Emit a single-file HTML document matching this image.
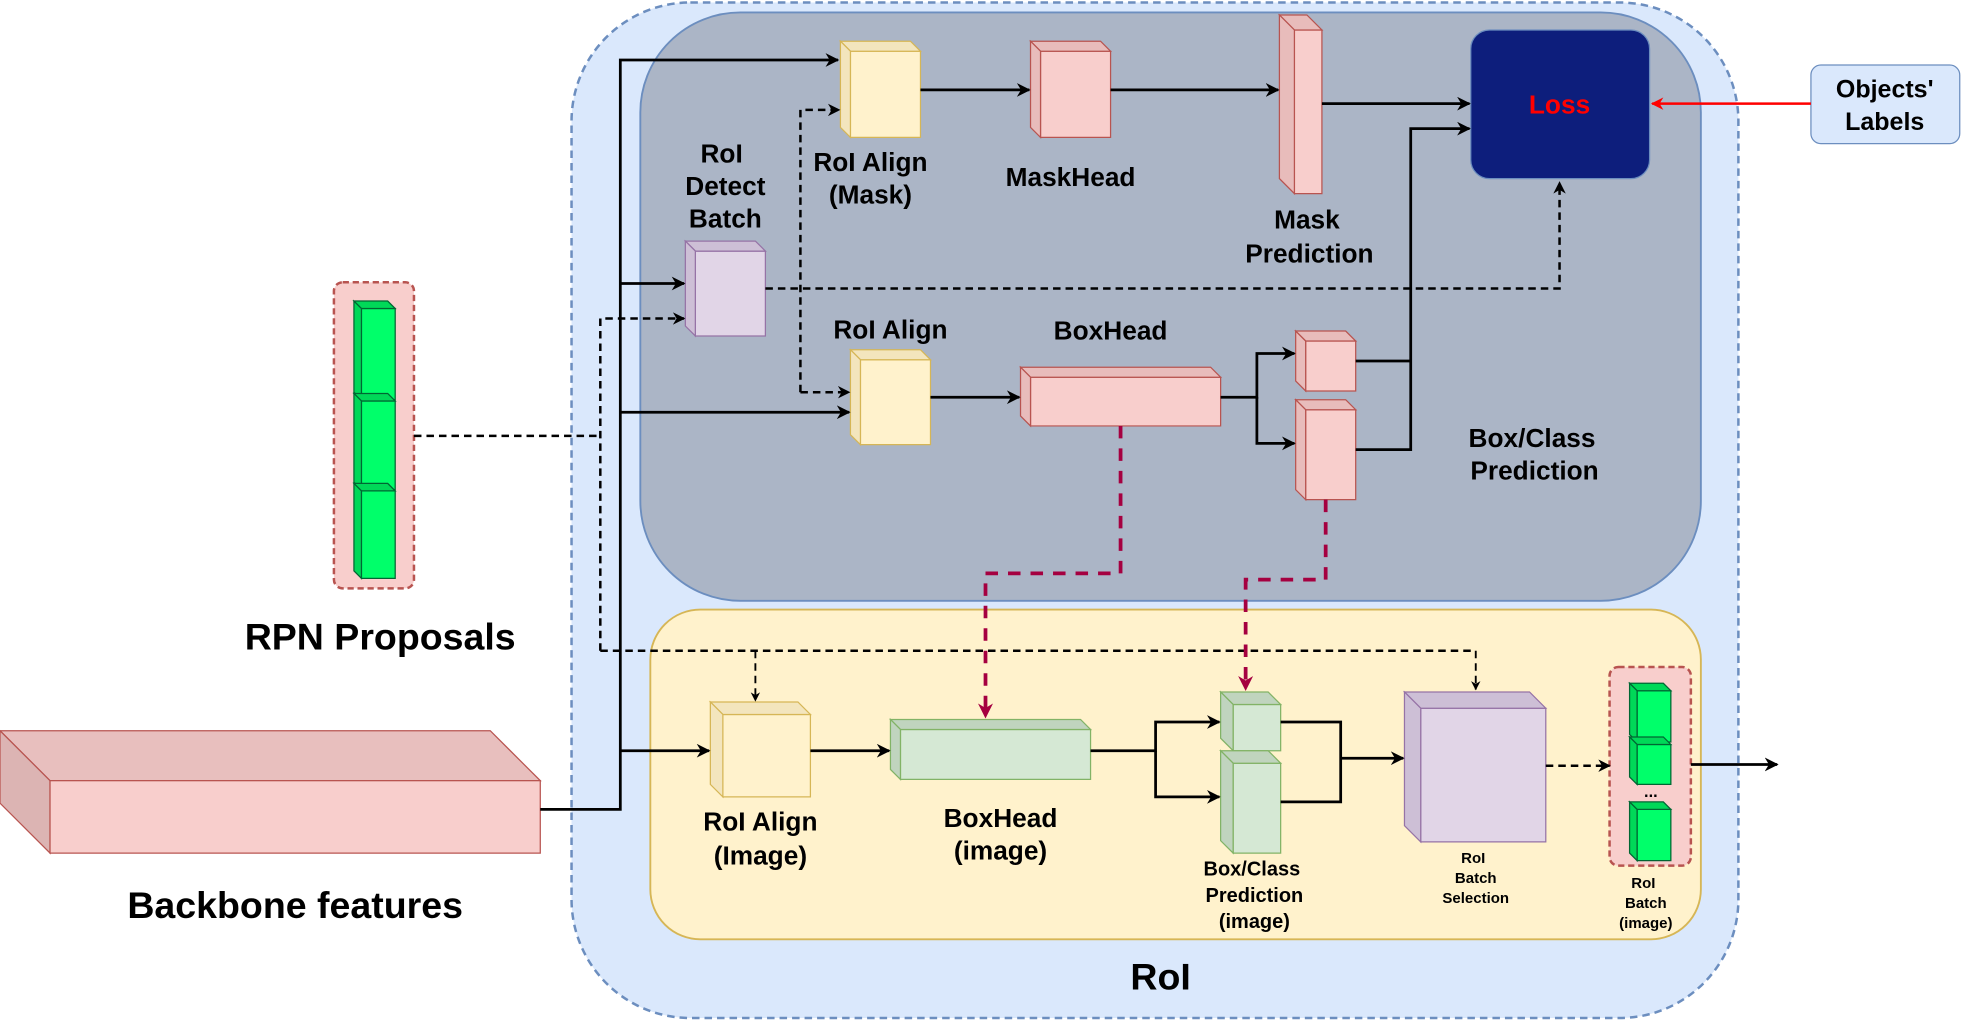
<!DOCTYPE html>
<html><head><meta charset="utf-8"><style>
html,body{margin:0;padding:0;background:#fff;}
svg{display:block;}
text{font-family:"Liberation Sans",Arial,sans-serif;font-weight:bold;text-anchor:middle;fill:#000;}
</style></head><body>
<svg id="s" width="1961" height="1023" viewBox="0 0 1568 819" preserveAspectRatio="none" xmlns="http://www.w3.org/2000/svg">
<defs>
<marker id="a" viewBox="0 0 10 10" refX="9" refY="5" markerWidth="5" markerHeight="5" orient="auto"><path d="M0,0 L10,5 L0,10 L3,5z" fill="#000"/></marker>
<marker id="ar" viewBox="0 0 10 10" refX="9" refY="5" markerWidth="5" markerHeight="5" orient="auto"><path d="M0,0 L10,5 L0,10 L3,5z" fill="#f00"/></marker>
<marker id="ac" viewBox="0 0 10 10" refX="9" refY="5" markerWidth="4" markerHeight="4" orient="auto"><path d="M0,0 L10,5 L0,10 L3,5z" fill="#a50040"/></marker>
</defs>
<rect x="457" y="2" width="933" height="813" rx="95" fill="#dae8fc" stroke="#6c8ebf" stroke-width="2" stroke-dasharray="6,4"/>
<rect x="512" y="10" width="848" height="471" rx="80" fill="#abb5c6" stroke="#6c8ebf" stroke-width="1.5"/>
<rect x="520" y="488" width="840" height="264" rx="40" fill="#fff2cc" stroke="#d6b656" stroke-width="1.5"/>
<g id="cubes"></g>
<!-- backbone -->
<polygon points="0,585 392,585 432,625 40,625" fill="#e8bfbe" stroke="#b85450"/>
<polygon points="0,585 40,625 40,683 0,643" fill="#dcb4b3" stroke="#b85450"/>
<rect x="40" y="625" width="392" height="58" fill="#f8cecc" stroke="#b85450"/>
<!-- RPN -->
<rect x="267" y="226" width="64" height="245" rx="7" fill="#f8cecc" stroke="#b85450" stroke-width="2" stroke-dasharray="5,3"/>
<rect x="1287" y="534" width="65" height="159" rx="7" fill="#f8cecc" stroke="#b85450" stroke-width="2" stroke-dasharray="5,3"/>
<g id="cubes2"></g>
<!-- loss -->
<rect x="1176" y="24" width="143" height="119" rx="15" fill="#0d1e7c" stroke="#6c8ebf"/>
<text x="1247" y="91" font-size="21" style="fill:#f00">Loss</text>
<rect x="1448" y="52" width="119" height="63" rx="8" fill="#dae8fc" stroke="#6c8ebf"/>
<text x="1507" y="78" font-size="20">Objects'</text><text x="1507" y="104" font-size="20">Labels</text>
<line x1="1448" y1="83" x2="1321" y2="83" stroke="#f00" stroke-width="2" marker-end="url(#ar)"/>
<g fill="none" stroke="#000" stroke-width="2.2">
<polyline points="432,648 496,648 496,48 670,48" marker-end="url(#a)"/>
<line x1="496" y1="227" x2="547" y2="227" marker-end="url(#a)"/>
<line x1="496" y1="330" x2="679" y2="330" marker-end="url(#a)"/>
<line x1="496" y1="601" x2="567" y2="601" marker-end="url(#a)"/>
<line x1="736" y1="72" x2="823" y2="72" marker-end="url(#a)"/>
<line x1="888" y1="72" x2="1022" y2="72" marker-end="url(#a)"/>
<line x1="1057" y1="83" x2="1175" y2="83" marker-end="url(#a)"/>
<line x1="744" y1="318" x2="815" y2="318" marker-end="url(#a)"/>
<polyline points="976,318 1005,318 1005,283 1035,283" marker-end="url(#a)"/>
<polyline points="1005,318 1005,355 1035,355" marker-end="url(#a)"/>
<polyline points="1084,289 1128,289"/>
<polyline points="1084,360 1128,360 1128,103 1175,103" marker-end="url(#a)"/>
<line x1="648" y1="601" x2="711" y2="601" marker-end="url(#a)"/>
<polyline points="872,601 924,601 924,578 975,578" marker-end="url(#a)"/>
<polyline points="924,601 924,638 975,638" marker-end="url(#a)"/>
<polyline points="1024,578 1072,578 1072,642 1024,642"/>
<line x1="1072" y1="607" x2="1122" y2="607" marker-end="url(#a)"/>
<line x1="1352" y1="612" x2="1421" y2="612" marker-end="url(#a)"/>
</g>
<g fill="none" stroke="#000" stroke-width="2" stroke-dasharray="6,4">
<line x1="331" y1="349" x2="480" y2="349"/>
<polyline points="480,521 480,255 547,255" marker-end="url(#a)"/>
<line x1="480" y1="521" x2="1180" y2="521"/>
<line x1="604" y1="521" x2="604" y2="561" stroke-width="1.5" marker-end="url(#a)"/>
<line x1="1180" y1="521" x2="1180" y2="552" stroke-width="1.5" marker-end="url(#a)"/>
<polyline points="612,231 1247,231 1247,146" marker-end="url(#a)"/>
<polyline points="640,314 640,88 671,88" marker-end="url(#a)"/>
<line x1="640" y1="314" x2="679" y2="314" marker-end="url(#a)"/>
<line x1="1236" y1="613" x2="1287" y2="613" marker-end="url(#a)"/>
</g>
<g fill="none" stroke="#a50040" stroke-width="3" stroke-dasharray="10,8">
<polyline points="896,341 896,459 788,459 788,574" marker-end="url(#ac)"/>
<polyline points="1060,400 1060,464 996,464 996,552" marker-end="url(#ac)"/>
</g>
<text x="1320" y="638" font-size="13">...</text>
<g font-size="21">
<text x="577" y="130">RoI</text><text x="580" y="156">Detect</text><text x="580" y="182">Batch</text>
<text x="696" y="137">RoI Align</text><text x="696" y="163">(Mask)</text>
<text x="856" y="149">MaskHead</text>
<text x="1045" y="183">Mask</text><text x="1047" y="210">Prediction</text>
<text x="712" y="271">RoI Align</text>
<text x="888" y="272">BoxHead</text>
<text x="1225" y="358">Box/Class</text><text x="1227" y="384">Prediction</text>
<text x="608" y="665">RoI Align</text><text x="608" y="692">(Image)</text>
<text x="800" y="662">BoxHead</text><text x="800" y="688">(image)</text>
</g>
<g font-size="16">
<text x="1001" y="701">Box/Class</text><text x="1003" y="722">Prediction</text><text x="1003" y="743">(image)</text>
</g>
<g font-size="12">
<text x="1178" y="691">RoI</text><text x="1180" y="707">Batch</text><text x="1180" y="723">Selection</text>
<text x="1314" y="711">RoI</text><text x="1316" y="727">Batch</text><text x="1316" y="743">(image)</text>
</g>
<g font-size="30">
<text x="304" y="520">RPN Proposals</text>
<text x="236" y="735">Backbone features</text>
<text x="928" y="792">RoI</text>
</g>
</svg>
<script>
var NS='http://www.w3.org/2000/svg',g;
function P(pts,f,s){var p=document.createElementNS(NS,'polygon');p.setAttribute('points',pts.map(function(q){return q.join(',')}).join(' '));p.setAttribute('fill',f);p.setAttribute('stroke',s);p.setAttribute('stroke-width','1');g.appendChild(p);}
function cube(x,y,x2,y2,d,c){var f=c[0],t=c[1],s=c[2];
P([[x+d,y+d],[x2,y+d],[x2,y2],[x+d,y2]],f,s);
P([[x,y],[x2-d,y],[x2,y+d],[x+d,y+d]],t,s);
P([[x,y],[x+d,y+d],[x+d,y2],[x,y2-d]],t,s);}
var Y=['#fff2cc','#f3e5bd','#d6b656'],K=['#f8cecc','#e8bcbb','#b85450'],G=['#d5e8d4','#c0d4be','#82b366'],U=['#e1d5e7','#cdbfd6','#9673a6'],N=['#00ff6a','#00d858','#006633'];
g=document.getElementById('cubes');
cube(672,33,736,110,8,Y);cube(824,33,888,110,8,K);cube(1023,12,1057,155,12,K);
cube(548,193,612,269,8,U);cube(680,280,744,356,8,Y);cube(816,294,976,341,8,K);
cube(1036,265,1084,313,8,K);cube(1036,320,1084,400,8,K);
cube(568,562,648,638,10,Y);cube(712,576,872,624,8,G);
cube(976,554,1024,601,10,G);cube(976,601,1024,683,10,G);
cube(1123,554,1236,674,13,U);
g=document.getElementById('cubes2');
cube(283,241,316,320,6,N);cube(283,315,316,392,6,N);cube(283,387,316,463,6,N);
cube(1303,547,1336,594,6,N);cube(1303,590,1336,628,6,N);cube(1303,642,1336,689,6,N);
</script>
</body></html>
